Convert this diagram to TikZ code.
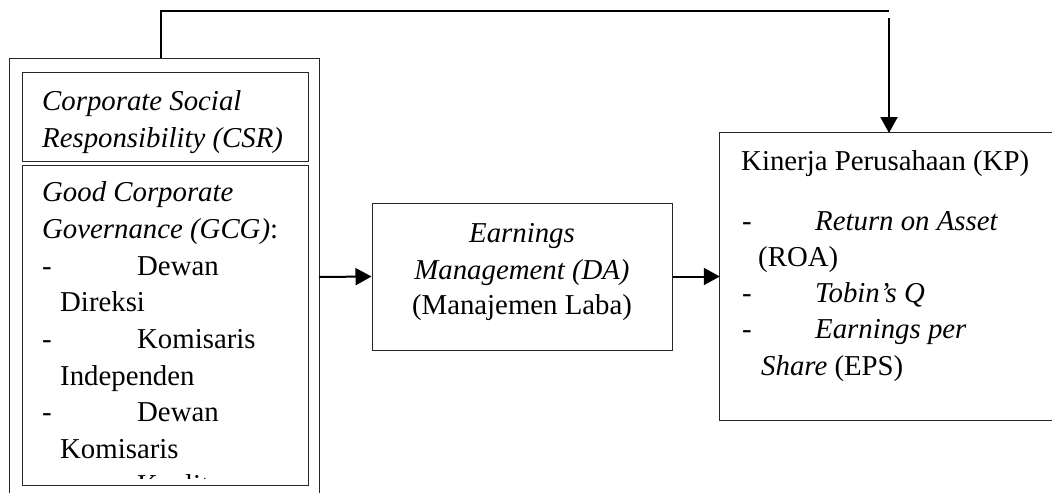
\documentclass[tikz,border=0pt]{standalone}
\usepackage{fontspec}
\setmainfont{Liberation Serif}
\usetikzlibrary{arrows.meta}
\begin{document}
\begin{tikzpicture}[x=1pt,y=-1pt,
  boxline/.style={draw=black!85, line width=1pt},
  bx/.style={boxline, rectangle, inner sep=0pt},
  txt/.style={anchor=base west, inner sep=0pt, font=\fontsize{28.8}{36.5}\selectfont},
  ctxt/.style={anchor=base, inner sep=0pt, font=\fontsize{28.8}{36.5}\selectfont},
  arr/.style={line width=2pt, -{Triangle[length=16pt,width=17pt]}},
  fb/.style={line width=1.3pt}]
\useasboundingbox (0,0) rectangle (1052,493);
% outer open box (no bottom edge visible)
\coordinate (oBL) at (9,493);
\coordinate (oTL) at (9,58);
\coordinate (oTR) at (319,58);
\coordinate (oBR) at (319,493);
\draw[boxline] (oBL) -- (oTL) -- (oTR) -- (oBR);
% CSR box
\node[bx, minimum width=286pt, minimum height=89pt] (csr) at (165,116.5) {};
\node[txt] (csr1) at (42,110) {\itshape Corporate Social};
\node[txt] (csr2) at (42,147) {\itshape Responsibility (CSR)};
% GCG box
\node[bx, minimum width=286pt, minimum height=320pt] (gcg) at (165,325) {};
\begin{scope}
\clip (gcg.north west) rectangle (308,478);
\node[txt] (g1) at (42,201) {\itshape Good Corporate};
\node[txt] (g2) at (42,238) {{\itshape Governance (GCG)}:};
\node[txt] (gd1) at (42,275) {-};
\node[txt] (g3) at (137,275) {Dewan};
\node[txt] (g4) at (60,311) {Direksi};
\node[txt] (gd2) at (42,348) {-};
\node[txt] (g5) at (137,348) {Komisaris};
\node[txt] (g6) at (60,385) {Independen};
\node[txt] (gd3) at (42,421) {-};
\node[txt] (g7) at (137,421) {Dewan};
\node[txt] (g8) at (60,458) {Komisaris};
\node[txt] (gd4) at (42,494) {-};
\node[txt] (g9) at (137,494) {Kualitas};
\end{scope}
% Earnings management box
\node[bx, minimum width=300pt, minimum height=147pt] (em) at (522,276.5) {};
\node[ctxt] (em1) at (522,242) {\itshape Earnings};
\node[ctxt] (em2) at (522,279) {\itshape Management (DA)};
\node[ctxt] (em3) at (522,314) {(Manajemen Laba)};
% KP box (no right edge)
\node[rectangle, inner sep=0pt, minimum width=332pt, minimum height=287pt] (kp) at (886,276.5) {};
\draw[boxline] (kp.north east) -- (kp.north west) -- (kp.south west) -- (kp.south east);
\node[txt] (k1) at (741,170) {Kinerja Perusahaan (KP)};
\node[txt] (kd1) at (742,230) {-};
\node[txt] (k2) at (815,230) {\itshape Return on Asset};
\node[txt] (k3) at (758,266) {(ROA)};
\node[txt] (kd2) at (742,302) {-};
\node[txt] (k4) at (815,302) {\itshape Tobin’s Q};
\node[txt] (kd3) at (742,338) {-};
\node[txt] (k5) at (815,338) {\itshape Earnings per};
\node[txt] (k6) at (761,375) {{\itshape Share} (EPS)};
% connectors
\coordinate (oR) at (319,277);
\draw[arr] (oR) -- (em.west);
\draw[arr] (em.east) -- (kp.west);
\coordinate (fbS) at (161,58);
\coordinate (fbE) at (889,11);
\draw[fb] (fbS) |- (fbE);
\coordinate (fbA) at (889,18);
\coordinate (fbT) at (889,133);
\draw[arr] (fbA) -- (fbT);
\end{tikzpicture}
\end{document}
